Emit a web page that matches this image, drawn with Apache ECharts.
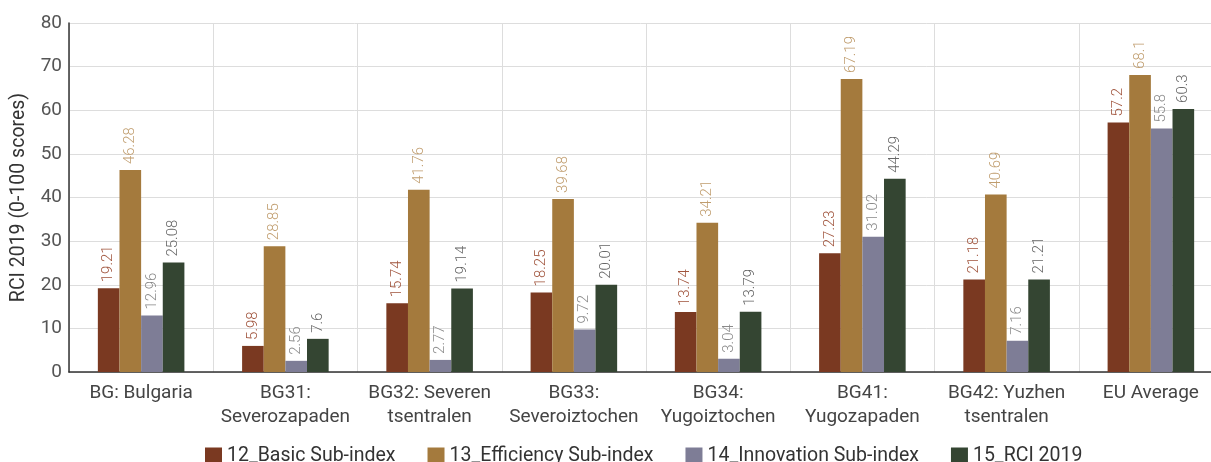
<!DOCTYPE html>
<html>
<head>
<meta charset="utf-8">
<script src="https://cdn.jsdelivr.net/npm/echarts@6/dist/echarts.min.js"></script>
<style>
  html, body { margin: 0; padding: 0; background: #fff; }
  #chart { width: 1211px; height: 462px; }
</style>
</head>
<body>
<div id="chart"></div>
<script>
const categories = [
  "BG: Bulgaria",
  "BG31:\nSeverozapaden",
  "BG32: Severen\ntsentralen",
  "BG33:\nSeveroiztochen",
  "BG34:\nYugoiztochen",
  "BG41:\nYugozapaden",
  "BG42: Yuzhen\ntsentralen",
  "EU Average",
];
const seriesNames = [
  "12_Basic Sub-index",
  "13_Efficiency Sub-index",
  "14_Innovation Sub-index",
  "15_RCI 2019",
];
const basic = [19.21, 5.98, 15.74, 18.25, 13.74, 27.23, 21.18, 57.2];
const efficiency = [46.28, 28.85, 41.76, 39.68, 34.21, 67.19, 40.69, 68.1];
const innovation = [12.96, 2.56, 2.77, 9.72, 3.04, 31.02, 7.16, 55.8];
const rci = [25.08, 7.6, 19.14, 20.01, 13.79, 44.29, 21.21, 60.3];

const barColors = ["#7a3921", "#a47a3d", "#7e7d96", "#344532"];
const labelColors = ["#a0543c", "#c09d6e", "#8a8a8a", "#666666"];

const chart = echarts.init(document.getElementById("chart"));

const makeSeries = (name, data, i) => ({
  name,
  type: "bar",
  data,
  barGap: "0%",
  barCategoryGap: "40%",
  itemStyle: { color: barColors[i] },
  label: {
    show: true,
    position: "top",
    rotate: 90,
    align: "left",
    verticalAlign: "middle",
    distance: 6,
    color: labelColors[i],
    fontFamily: "Roboto",
    fontWeight: 300,
    fontSize: 15,
  },
});

const option = {
  animation: false,
  textStyle: { fontFamily: "Roboto" },
  grid: { left: 69, right: -12, top: 23, bottom: 90, outerBoundsMode: "none" },
  legend: {
    top: 441,
    left: 200,
    itemWidth: 17,
    itemHeight: 17,
    itemGap: 32,
    icon: "rect",
    textStyle: { fontFamily: "Roboto", fontSize: 19.5, color: "#333" },
    data: seriesNames,
  },
  xAxis: {
    type: "category",
    data: categories,
    axisLine: { lineStyle: { color: "#333", width: 1.5 } },
    axisTick: { show: false },
    splitLine: { show: true, lineStyle: { color: "#dddddd" } },
    axisLabel: {
      color: "#444",
      fontFamily: "Roboto",
      fontSize: 19,
      lineHeight: 24,
      margin: 9,
      interval: 0,
    },
  },
  yAxis: {
    type: "value",
    min: 0,
    max: 80,
    interval: 10,
    name: "RCI 2019 (0-100 scores)",
    nameLocation: "middle",
    nameGap: 40,
    nameTextStyle: { fontFamily: "Roboto", fontSize: 19.5, color: "#333" },
    axisLine: { show: true, lineStyle: { color: "#333", width: 1.5 } },
    axisTick: { show: false },
    splitLine: { lineStyle: { color: "#dddddd" } },
    axisLabel: { color: "#555", fontFamily: "Roboto", fontSize: 19, margin: 7 },
  },
  series: [
    makeSeries(seriesNames[0], basic, 0),
    makeSeries(seriesNames[1], efficiency, 1),
    makeSeries(seriesNames[2], innovation, 2),
    makeSeries(seriesNames[3], rci, 3),
  ],
};
chart.setOption(option);
window.addEventListener("resize", () => chart.resize());
</script>
</body>
</html>
